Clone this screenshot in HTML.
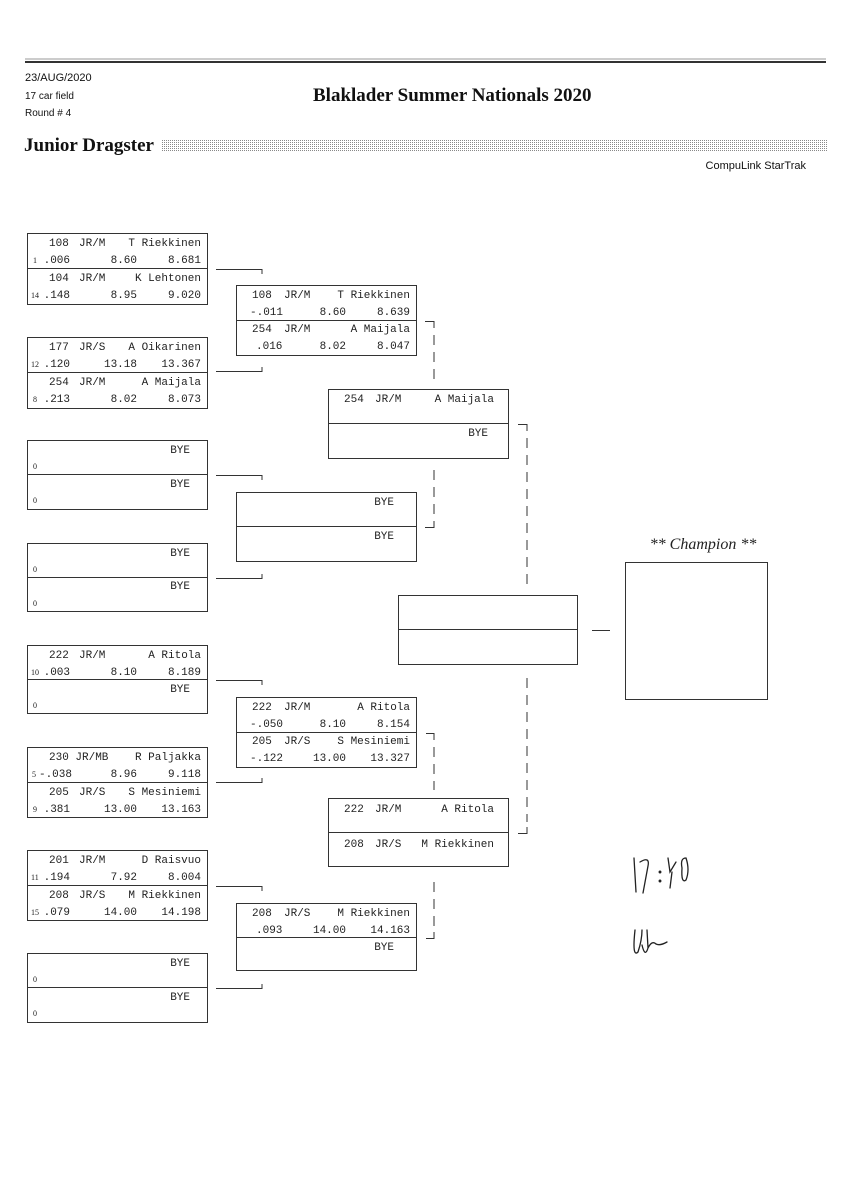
<!DOCTYPE html>
<html><head><meta charset="utf-8"><style>
html,body{margin:0;padding:0;background:#fff;width:848px;height:1200px;overflow:hidden}
svg{display:block}
.m{font-family:"Liberation Mono",monospace;font-size:11px;fill:#222}
.s{font-family:"Liberation Serif",serif;font-size:8px;fill:#222}
.h{font-family:"Liberation Sans",sans-serif;font-size:11px;fill:#111}
</style></head><body>
<svg width="848" height="1200" xmlns="http://www.w3.org/2000/svg">
<defs><pattern id="dots" width="2" height="2" patternUnits="userSpaceOnUse"><rect width="1" height="1" fill="#888"/></pattern></defs>
<line x1="25" y1="59" x2="826" y2="59" stroke="#999" stroke-width="1"/>
<line x1="25" y1="62" x2="826" y2="62" stroke="#333" stroke-width="2"/>
<text class="h" x="25" y="81" style="font-size:11px">23/AUG/2020</text>
<text class="h" x="25" y="99" style="font-size:10px">17 car field</text>
<text class="h" x="25" y="116" style="font-size:10px">Round # 4</text>
<text x="313" y="101" style="font-family:'Liberation Serif',serif;font-weight:bold;font-size:19px" fill="#111">Blaklader Summer Nationals 2020</text>
<text x="24" y="151" style="font-family:'Liberation Serif',serif;font-weight:bold;font-size:19px" fill="#111">Junior Dragster</text>
<rect x="162" y="140" width="666" height="12" fill="url(#dots)"/>
<text class="h" x="806" y="169" text-anchor="end" style="font-size:11px">CompuLink StarTrak</text>
<g fill="none" stroke="#333" stroke-width="1">
<rect x="27.5" y="233.5" width="180" height="71"/><line x1="27" y1="268.5" x2="207" y2="268.5"/>
<rect x="27.5" y="337.5" width="180" height="71"/><line x1="27" y1="372.5" x2="207" y2="372.5"/>
<rect x="27.5" y="440.5" width="180" height="69"/><line x1="27" y1="474.5" x2="207" y2="474.5"/>
<rect x="27.5" y="543.5" width="180" height="68"/><line x1="27" y1="577.5" x2="207" y2="577.5"/>
<rect x="27.5" y="645.5" width="180" height="68"/><line x1="27" y1="679.5" x2="207" y2="679.5"/>
<rect x="27.5" y="747.5" width="180" height="70"/><line x1="27" y1="782.5" x2="207" y2="782.5"/>
<rect x="27.5" y="850.5" width="180" height="70"/><line x1="27" y1="885.5" x2="207" y2="885.5"/>
<rect x="27.5" y="953.5" width="180" height="69"/><line x1="27" y1="987.5" x2="207" y2="987.5"/>
<rect x="236.5" y="285.5" width="180" height="70"/><line x1="236" y1="320.5" x2="416" y2="320.5"/>
<rect x="236.5" y="492.5" width="180" height="69"/><line x1="236" y1="526.5" x2="416" y2="526.5"/>
<rect x="236.5" y="697.5" width="180" height="70"/><line x1="236" y1="732.5" x2="416" y2="732.5"/>
<rect x="236.5" y="903.5" width="180" height="67"/><line x1="236" y1="937.5" x2="416" y2="937.5"/>
<rect x="328.5" y="389.5" width="180" height="69"/><line x1="328" y1="423.5" x2="508" y2="423.5"/>
<rect x="328.5" y="798.5" width="180" height="68"/><line x1="328" y1="832.5" x2="508" y2="832.5"/>
<rect x="398.5" y="595.5" width="179" height="69"/><line x1="398" y1="629.5" x2="577" y2="629.5"/>
<rect x="625.5" y="562.5" width="142" height="137"/>
<path d="M216 269.5H262V274 M216 371.5H262V367"/>
<path d="M216 475.5H262V480 M216 578.5H262V574"/>
<path d="M216 680.5H262V685 M216 782.5H262V778"/>
<path d="M216 886.5H262V891 M216 988.5H262V984"/>
<line x1="592" y1="630.5" x2="610" y2="630.5"/>
<path d="M425 321.5H434V328"/>
<path d="M425 527.5H434V521"/>
<path d="M426 733.5H434V740"/>
<path d="M426 938.5H434V932"/>
<path d="M518 424.5H527V431"/>
<path d="M518 833.5H527V827"/>
</g>
<g fill="none" stroke="#333" stroke-width="1" stroke-dasharray="10,7">
<line x1="434" y1="335" x2="434" y2="385"/>
<line x1="434" y1="470" x2="434" y2="516"/>
<line x1="434" y1="747" x2="434" y2="790"/>
<line x1="434" y1="882" x2="434" y2="928"/>
<line x1="527" y1="438" x2="527" y2="585"/>
<line x1="527" y1="678" x2="527" y2="822"/>
</g>
<text x="703" y="549" text-anchor="middle" style="font-family:'Liberation Serif',serif;font-style:italic;font-size:16px" fill="#222">** Champion **</text>
<g class="m">
<text x="49" y="246">108</text><text x="79" y="246">JR/M</text><text x="201" y="246" text-anchor="end">T Riekkinen</text>
<text x="70" y="263" text-anchor="end">.006</text><text x="137" y="263" text-anchor="end">8.60</text><text x="201" y="263" text-anchor="end">8.681</text>
<text x="49" y="281">104</text><text x="79" y="281">JR/M</text><text x="201" y="281" text-anchor="end">K Lehtonen</text>
<text x="70" y="298" text-anchor="end">.148</text><text x="137" y="298" text-anchor="end">8.95</text><text x="201" y="298" text-anchor="end">9.020</text>
<text x="49" y="350">177</text><text x="79" y="350">JR/S</text><text x="201" y="350" text-anchor="end">A Oikarinen</text>
<text x="70" y="367" text-anchor="end">.120</text><text x="137" y="367" text-anchor="end">13.18</text><text x="201" y="367" text-anchor="end">13.367</text>
<text x="49" y="385">254</text><text x="79" y="385">JR/M</text><text x="201" y="385" text-anchor="end">A Maijala</text>
<text x="70" y="402" text-anchor="end">.213</text><text x="137" y="402" text-anchor="end">8.02</text><text x="201" y="402" text-anchor="end">8.073</text>
<text x="190" y="453" text-anchor="end">BYE</text><text x="190" y="487" text-anchor="end">BYE</text>
<text x="190" y="556" text-anchor="end">BYE</text><text x="190" y="589" text-anchor="end">BYE</text>
<text x="49" y="658">222</text><text x="79" y="658">JR/M</text><text x="201" y="658" text-anchor="end">A Ritola</text>
<text x="70" y="675" text-anchor="end">.003</text><text x="137" y="675" text-anchor="end">8.10</text><text x="201" y="675" text-anchor="end">8.189</text>
<text x="190" y="692" text-anchor="end">BYE</text>
<text x="49" y="760">230 JR/MB</text><text x="201" y="760" text-anchor="end">R Paljakka</text>
<text x="72" y="777" text-anchor="end">-.038</text><text x="137" y="777" text-anchor="end">8.96</text><text x="201" y="777" text-anchor="end">9.118</text>
<text x="49" y="795">205</text><text x="79" y="795">JR/S</text><text x="201" y="795" text-anchor="end">S Mesiniemi</text>
<text x="70" y="812" text-anchor="end">.381</text><text x="137" y="812" text-anchor="end">13.00</text><text x="201" y="812" text-anchor="end">13.163</text>
<text x="49" y="863">201</text><text x="79" y="863">JR/M</text><text x="201" y="863" text-anchor="end">D Raisvuo</text>
<text x="70" y="880" text-anchor="end">.194</text><text x="137" y="880" text-anchor="end">7.92</text><text x="201" y="880" text-anchor="end">8.004</text>
<text x="49" y="898">208</text><text x="79" y="898">JR/S</text><text x="201" y="898" text-anchor="end">M Riekkinen</text>
<text x="70" y="915" text-anchor="end">.079</text><text x="137" y="915" text-anchor="end">14.00</text><text x="201" y="915" text-anchor="end">14.198</text>
<text x="190" y="966" text-anchor="end">BYE</text><text x="190" y="1000" text-anchor="end">BYE</text>
<text x="252" y="298">108</text><text x="284" y="298">JR/M</text><text x="410" y="298" text-anchor="end">T Riekkinen</text>
<text x="250" y="315">-.011</text><text x="346" y="315" text-anchor="end">8.60</text><text x="410" y="315" text-anchor="end">8.639</text>
<text x="252" y="332">254</text><text x="284" y="332">JR/M</text><text x="410" y="332" text-anchor="end">A Maijala</text>
<text x="256" y="349">.016</text><text x="346" y="349" text-anchor="end">8.02</text><text x="410" y="349" text-anchor="end">8.047</text>
<text x="394" y="505" text-anchor="end">BYE</text><text x="394" y="539" text-anchor="end">BYE</text>
<text x="252" y="710">222</text><text x="284" y="710">JR/M</text><text x="410" y="710" text-anchor="end">A Ritola</text>
<text x="250" y="727">-.050</text><text x="346" y="727" text-anchor="end">8.10</text><text x="410" y="727" text-anchor="end">8.154</text>
<text x="252" y="744">205</text><text x="284" y="744">JR/S</text><text x="410" y="744" text-anchor="end">S Mesiniemi</text>
<text x="250" y="761">-.122</text><text x="346" y="761" text-anchor="end">13.00</text><text x="410" y="761" text-anchor="end">13.327</text>
<text x="252" y="916">208</text><text x="284" y="916">JR/S</text><text x="410" y="916" text-anchor="end">M Riekkinen</text>
<text x="256" y="933">.093</text><text x="346" y="933" text-anchor="end">14.00</text><text x="410" y="933" text-anchor="end">14.163</text>
<text x="394" y="950" text-anchor="end">BYE</text>
<text x="344" y="402">254</text><text x="375" y="402">JR/M</text><text x="494" y="402" text-anchor="end">A Maijala</text>
<text x="488" y="436" text-anchor="end">BYE</text>
<text x="344" y="812">222</text><text x="375" y="812">JR/M</text><text x="494" y="812" text-anchor="end">A Ritola</text>
<text x="344" y="847">208</text><text x="375" y="847">JR/S</text><text x="494" y="847" text-anchor="end">M Riekkinen</text>
</g>
<g class="s">
<text x="33" y="263">1</text><text x="31" y="298">14</text>
<text x="31" y="367">12</text><text x="33" y="402">8</text>
<text x="33" y="469">0</text><text x="33" y="503">0</text>
<text x="33" y="572">0</text><text x="33" y="606">0</text>
<text x="31" y="675">10</text><text x="33" y="708">0</text>
<text x="32" y="777">5</text><text x="33" y="812">9</text>
<text x="31" y="880">11</text><text x="31" y="915">15</text>
<text x="33" y="982">0</text><text x="33" y="1016">0</text>
</g>
<g fill="none" stroke="#222" stroke-width="1.3" stroke-linecap="round">
<path d="M634 858 L636 892 M640 862 Q650 856 648 866 L643 893"/>
<circle cx="660" cy="872" r="0.8" fill="#222"/><circle cx="660" cy="881" r="0.8" fill="#222"/>
<path d="M668 858 L670 872 L676 862 M672 872 L670 888 M682 868 Q680 858 686 858 Q690 870 686 880 Q681 884 682 868"/>
<path d="M635 930 Q632 958 638 952 Q642 940 642 930 M642 945 Q645 958 648 948 L647 930 M648 948 Q652 940 656 944 Q660 946 667 942"/>
</g>
</svg>
</body></html>
